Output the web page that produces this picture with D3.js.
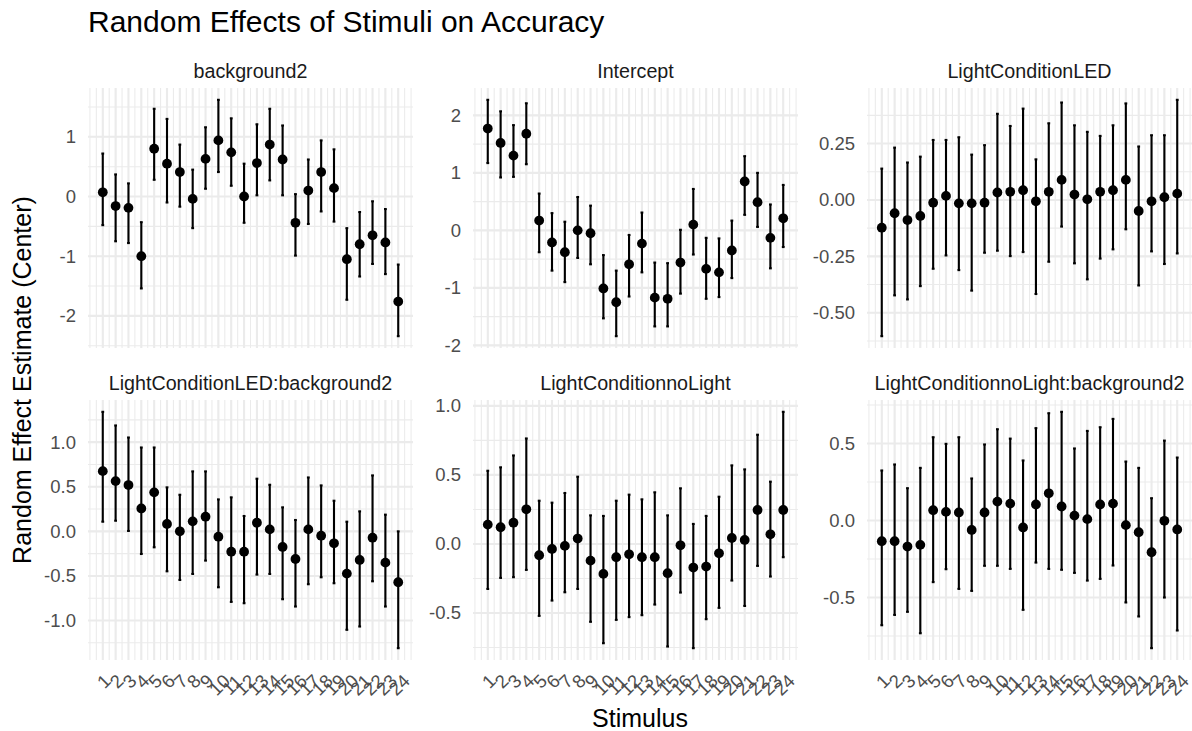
<!DOCTYPE html>
<html>
<head>
<meta charset="utf-8">
<script src="https://cdn.jsdelivr.net/npm/d3@7"></script>
<style>
  html, body { margin: 0; padding: 0; background: #ffffff; }
  svg { display: block; font-family: "Liberation Sans", Arial, sans-serif; }
</style>
</head>
<body>
<svg id="chart" width="1192" height="731"></svg>
<script>
// ---------------- data ----------------
const stimuli = d3.range(1, 25);

const panelTitles = ["background2", "Intercept", "LightConditionLED",
  "LightConditionLED:background2", "LightConditionnoLight", "LightConditionnoLight:background2"];

const background2Est = [0.07, -0.16, -0.19, -1.00, 0.80, 0.55, 0.41, -0.04, 0.63, 0.94, 0.74, 0.00,
  0.56, 0.87, 0.62, -0.44, 0.10, 0.41, 0.14, -1.05, -0.80, -0.65, -0.77, -1.76];
const background2Lo = [-0.48, -0.75, -0.78, -1.54, 0.28, -0.10, -0.17, -0.53, 0.13, 0.41, 0.18, -0.44,
  0.02, 0.27, 0.02, -0.99, -0.46, -0.25, -0.42, -1.73, -1.34, -1.13, -1.30, -2.34];
const background2Hi = [0.72, 0.37, 0.22, -0.43, 1.47, 1.30, 0.87, 0.45, 1.16, 1.62, 1.31, 0.55,
  1.21, 1.47, 1.19, 0.04, 0.62, 0.94, 0.79, -0.53, -0.26, -0.08, -0.21, -1.14];

const interceptEst = [1.77, 1.52, 1.30, 1.68, 0.17, -0.21, -0.38, 0.00, -0.05, -1.01, -1.25, -0.59,
  -0.23, -1.17, -1.19, -0.56, 0.10, -0.67, -0.73, -0.35, 0.85, 0.49, -0.13, 0.21];
const interceptLo = [1.17, 0.92, 0.93, 1.15, -0.38, -0.70, -0.90, -0.48, -0.59, -1.53, -1.84, -1.15,
  -0.73, -1.67, -1.67, -1.10, -0.42, -1.19, -1.16, -0.83, 0.27, 0.06, -0.66, -0.29];
const interceptHi = [2.27, 2.07, 1.83, 2.21, 0.64, 0.30, 0.15, 0.58, 0.43, -0.43, -0.70, -0.08,
  0.31, -0.56, -0.57, 0.01, 0.72, -0.13, -0.14, 0.17, 1.29, 1.00, 0.45, 0.79];

const ledEst = [-0.123, -0.059, -0.089, -0.071, -0.012, 0.018, -0.015, -0.015, -0.012, 0.033, 0.036, 0.043,
  -0.006, 0.036, 0.089, 0.024, 0.003, 0.036, 0.043, 0.089, -0.049, -0.006, 0.012, 0.028];
const ledLo = [-0.604, -0.423, -0.441, -0.382, -0.305, -0.246, -0.311, -0.402, -0.234, -0.225, -0.249, -0.231,
  -0.417, -0.274, -0.118, -0.281, -0.352, -0.260, -0.219, -0.130, -0.379, -0.228, -0.284, -0.237];
const ledHi = [0.139, 0.232, 0.166, 0.192, 0.266, 0.266, 0.278, 0.201, 0.243, 0.382, 0.328, 0.405,
  0.180, 0.340, 0.432, 0.331, 0.302, 0.284, 0.331, 0.428, 0.237, 0.287, 0.287, 0.444];

const ledBg2Est = [0.675, 0.563, 0.519, 0.257, 0.437, 0.082, 0.000, 0.112, 0.164, -0.060, -0.228, -0.228,
  0.097, 0.022, -0.175, -0.310, 0.022, -0.049, -0.134, -0.474, -0.321, -0.071, -0.351, -0.571];
const ledBg2Lo = [0.108, 0.119, 0.004, -0.254, -0.179, -0.448, -0.545, -0.478, -0.328, -0.627, -0.791, -0.806,
  -0.485, -0.478, -0.761, -0.843, -0.593, -0.515, -0.582, -1.104, -1.067, -0.560, -0.843, -1.310];
const ledBg2Hi = [1.340, 1.187, 1.052, 0.940, 0.940, 0.493, 0.410, 0.672, 0.672, 0.358, 0.381, 0.172,
  0.590, 0.522, 0.269, 0.127, 0.604, 0.515, 0.343, 0.108, 0.224, 0.627, 0.187, 0.000];

const noLightEst = [0.140, 0.121, 0.154, 0.251, -0.082, -0.036, -0.014, 0.039, -0.121, -0.217, -0.096, -0.075,
  -0.096, -0.096, -0.212, -0.010, -0.171, -0.164, -0.068, 0.043, 0.029, 0.246, 0.070, 0.246];
const noLightLo = [-0.326, -0.246, -0.241, -0.188, -0.521, -0.410, -0.350, -0.326, -0.564, -0.719, -0.550, -0.530,
  -0.516, -0.439, -0.743, -0.352, -0.755, -0.545, -0.463, -0.265, -0.449, -0.159, -0.236, -0.096];
const noLightHi = [0.530, 0.555, 0.641, 0.764, 0.313, 0.299, 0.369, 0.487, 0.207, 0.203, 0.313, 0.357,
  0.323, 0.374, 0.207, 0.403, 0.145, 0.203, 0.342, 0.569, 0.540, 0.791, 0.451, 0.957];

const noLightBg2Est = [-0.134, -0.134, -0.169, -0.158, 0.067, 0.056, 0.052, -0.061, 0.052, 0.123, 0.110, -0.045,
  0.104, 0.177, 0.091, 0.032, 0.009, 0.104, 0.110, -0.030, -0.076, -0.206, -0.002, -0.058];
const noLightBg2Lo = [-0.680, -0.613, -0.593, -0.732, -0.400, -0.316, -0.444, -0.457, -0.294, -0.294, -0.314, -0.580,
  -0.273, -0.314, -0.320, -0.340, -0.390, -0.379, -0.292, -0.532, -0.623, -0.829, -0.500, -0.714];
const noLightBg2Hi = [0.325, 0.364, 0.210, 0.342, 0.541, 0.498, 0.541, 0.273, 0.494, 0.593, 0.532, 0.390,
  0.600, 0.697, 0.706, 0.468, 0.582, 0.606, 0.660, 0.383, 0.342, 0.145, 0.519, 0.409];

// y tick values and labels per panel (as in the reference)
const yTicks = [
  [-2, -1, 0, 1],
  [-2, -1, 0, 1, 2],
  [-0.5, -0.25, 0, 0.25],
  [-1, -0.5, 0, 0.5, 1],
  [-0.5, 0, 0.5, 1],
  [-0.5, 0, 0.5]
];
const yTickLabels = [
  ["-2", "-1", "0", "1"],
  ["-2", "-1", "0", "1", "2"],
  ["-0.50", "-0.25", "0.00", "0.25"],
  ["-1.0", "-0.5", "0.0", "0.5", "1.0"],
  ["-0.5", "0.0", "0.5", "1.0"],
  ["-0.5", "0.0", "0.5"]
];
const xTickLabels = stimuli.map(String);

const estimates = [background2Est, interceptEst, ledEst, ledBg2Est, noLightEst, noLightBg2Est];
const lowers = [background2Lo, interceptLo, ledLo, ledBg2Lo, noLightLo, noLightBg2Lo];
const uppers = [background2Hi, interceptHi, ledHi, ledBg2Hi, noLightHi, noLightBg2Hi];

// ---------------- layout ----------------
const svg = d3.select("#chart");
const colLefts = [88, 473, 867];
const rowTops = [88, 400];
const panelW = 325, panelH = 260;
const gridCol = "#ebebeb";
const tickFont = 18.5;

svg.append("text")
  .attr("x", 88).attr("y", 32)
  .attr("font-size", 30).attr("fill", "#000")
  .text("Random Effects of Stimuli on Accuracy");

svg.append("text")
  .attr("transform", `translate(31,${(88 + 660) / 2 + 6}) rotate(-90)`)
  .attr("text-anchor", "middle")
  .attr("font-size", 25).attr("fill", "#000")
  .text("Random Effect Estimate (Center)");

svg.append("text")
  .attr("x", (88 + 1192) / 2).attr("y", 727)
  .attr("text-anchor", "middle")
  .attr("font-size", 25).attr("fill", "#000")
  .text("Stimulus");

panelTitles.forEach((title, i) => {
  const col = i % 3, row = Math.floor(i / 3);
  const left = colLefts[col], top = rowTops[row];
  const est = estimates[i], lo = lowers[i], hi = uppers[i];

  const x = d3.scaleLinear().domain([1 - 1.15, 24 + 1.15]).range([left, left + panelW]);
  const yMin = d3.min(lo), yMax = d3.max(hi);
  const pad = (yMax - yMin) * 0.05;
  const y = d3.scaleLinear().domain([yMin - pad, yMax + pad]).range([top + panelH, top]);

  const g = svg.append("g");

  // minor grid
  const ticks = yTicks[i];
  const step = ticks[1] - ticks[0];
  const yMinor = [];
  for (let v = Math.ceil((yMin - pad) / (step / 2)) * (step / 2); v <= yMax + pad + 1e-9; v += step / 2) {
    yMinor.push(v);
  }
  const xMinor = d3.range(0, 25.01, 0.5);

  g.selectAll(".hminor").data(yMinor).join("line")
    .attr("x1", left).attr("x2", left + panelW)
    .attr("y1", d => y(d)).attr("y2", d => y(d))
    .attr("stroke", gridCol).attr("stroke-width", 1.07);
  g.selectAll(".vminor").data(xMinor).join("line")
    .attr("x1", d => x(d)).attr("x2", d => x(d))
    .attr("y1", top).attr("y2", top + panelH)
    .attr("stroke", gridCol).attr("stroke-width", 1.07);

  // major grid
  g.selectAll(".hmajor").data(ticks).join("line")
    .attr("x1", left).attr("x2", left + panelW)
    .attr("y1", d => y(d)).attr("y2", d => y(d))
    .attr("stroke", gridCol).attr("stroke-width", 2.1);
  g.selectAll(".vmajor").data(stimuli).join("line")
    .attr("x1", d => x(d)).attr("x2", d => x(d))
    .attr("y1", top).attr("y2", top + panelH)
    .attr("stroke", gridCol).attr("stroke-width", 2.1);

  // y axis via d3 axis
  const yAxis = d3.axisLeft(y).tickValues(ticks)
    .tickFormat((d, k) => yTickLabels[i][k]).tickSize(0).tickPadding(12);
  const ya = svg.append("g").attr("transform", `translate(${left},0)`).call(yAxis);
  ya.select(".domain").remove();
  ya.selectAll("text").attr("font-size", tickFont).attr("fill", "#4d4d4d")
    .attr("font-family", '"Liberation Sans", Arial, sans-serif');

  // x axis labels only on bottom row
  if (row === 1) {
    const xl = svg.append("g");
    xl.selectAll("text").data(stimuli).join("text")
      .attr("transform", (d, k) => {
        const len = xTickLabels[k].length;
        const cy = 673 + (len * tickFont * 0.556 + tickFont * 0.72) * 0.707 / 2;
        return `translate(${x(d) + 1},${cy}) rotate(-45)`;
      })
      .attr("text-anchor", "middle")
      .attr("dominant-baseline", "central")
      .attr("font-size", tickFont).attr("fill", "#4d4d4d")
      .text((d, k) => xTickLabels[k]);
  }

  // strip title
  svg.append("text")
    .attr("x", left + panelW / 2).attr("y", top - 10)
    .attr("text-anchor", "middle")
    .attr("font-size", 19.7).attr("fill", "#1a1a1a")
    .text(title);

  // error bars
  const data = stimuli.map((s, k) => ({ s, e: est[k], lo: lo[k], hi: hi[k] }));
  const cap = 1.4;
  g.selectAll(".eb").data(data).join("line")
    .attr("x1", d => x(d.s)).attr("x2", d => x(d.s))
    .attr("y1", d => y(d.lo)).attr("y2", d => y(d.hi))
    .attr("stroke", "#000").attr("stroke-width", 2.1);
  g.selectAll(".capT").data(data).join("line")
    .attr("x1", d => x(d.s) - cap).attr("x2", d => x(d.s) + cap)
    .attr("y1", d => y(d.hi)).attr("y2", d => y(d.hi))
    .attr("stroke", "#000").attr("stroke-width", 2.1);
  g.selectAll(".capB").data(data).join("line")
    .attr("x1", d => x(d.s) - cap).attr("x2", d => x(d.s) + cap)
    .attr("y1", d => y(d.lo)).attr("y2", d => y(d.lo))
    .attr("stroke", "#000").attr("stroke-width", 2.1);
  g.selectAll(".pt").data(data).join("circle")
    .attr("cx", d => x(d.s)).attr("cy", d => y(d.e))
    .attr("r", 4.9).attr("fill", "#000");
});
</script>
</body>
</html>
